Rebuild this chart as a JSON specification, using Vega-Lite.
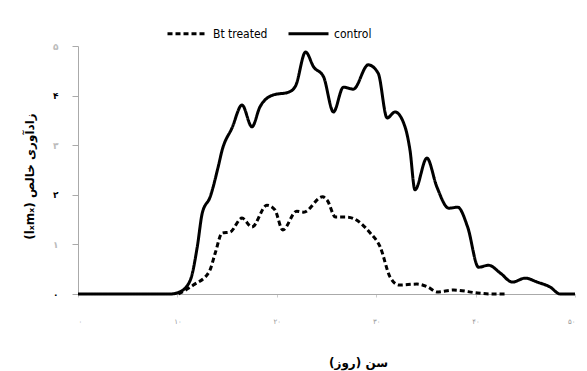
{
  "$schema": "https://vega.github.io/schema/vega-lite/v6.json",
  "width": 497,
  "height": 248,
  "autosize": {"type": "none"},
  "padding": {"left": 78, "top": 46, "right": 12, "bottom": 77},
  "background": "white",
  "config": {"view": {"stroke": null}, "font": "DejaVu Sans"},
  "data": {
    "values": [
      {"day": 0, "value": 0, "series": "control"},
      {"day": 9.3, "value": 0, "series": "control"},
      {"day": 10.3, "value": 0.05, "series": "control"},
      {"day": 11.3, "value": 0.28, "series": "control"},
      {"day": 12, "value": 0.95, "series": "control"},
      {"day": 12.5, "value": 1.63, "series": "control"},
      {"day": 13.3, "value": 1.96, "series": "control"},
      {"day": 14.1, "value": 2.56, "series": "control"},
      {"day": 14.5, "value": 2.9, "series": "control"},
      {"day": 15.5, "value": 3.35, "series": "control"},
      {"day": 16.5, "value": 3.81, "series": "control"},
      {"day": 17.5, "value": 3.37, "series": "control"},
      {"day": 18.3, "value": 3.77, "series": "control"},
      {"day": 19.6, "value": 4.01, "series": "control"},
      {"day": 21.2, "value": 4.07, "series": "control"},
      {"day": 21.9, "value": 4.2, "series": "control"},
      {"day": 22.9, "value": 4.88, "series": "control"},
      {"day": 23.7, "value": 4.58, "series": "control"},
      {"day": 24.7, "value": 4.38, "series": "control"},
      {"day": 25.7, "value": 3.67, "series": "control"},
      {"day": 26.7, "value": 4.17, "series": "control"},
      {"day": 27.7, "value": 4.13, "series": "control"},
      {"day": 29.2, "value": 4.62, "series": "control"},
      {"day": 30.2, "value": 4.45, "series": "control"},
      {"day": 31.1, "value": 3.55, "series": "control"},
      {"day": 31.9, "value": 3.67, "series": "control"},
      {"day": 32.9, "value": 3.37, "series": "control"},
      {"day": 33.4, "value": 2.9, "series": "control"},
      {"day": 33.9, "value": 2.1, "series": "control"},
      {"day": 35.1, "value": 2.74, "series": "control"},
      {"day": 36.1, "value": 2.16, "series": "control"},
      {"day": 37.3, "value": 1.73, "series": "control"},
      {"day": 38.2, "value": 1.75, "series": "control"},
      {"day": 39.2, "value": 1.35, "series": "control"},
      {"day": 40.3, "value": 0.54, "series": "control"},
      {"day": 41.3, "value": 0.58, "series": "control"},
      {"day": 42.5, "value": 0.42, "series": "control"},
      {"day": 43.7, "value": 0.24, "series": "control"},
      {"day": 45, "value": 0.32, "series": "control"},
      {"day": 46.2, "value": 0.24, "series": "control"},
      {"day": 47.5, "value": 0.14, "series": "control"},
      {"day": 48.5, "value": 0, "series": "control"},
      {"day": 50, "value": 0, "series": "control"},
      {"day": 10.1, "value": 0, "series": "Bt treated"},
      {"day": 11.6, "value": 0.18, "series": "Bt treated"},
      {"day": 13.2, "value": 0.45, "series": "Bt treated"},
      {"day": 13.8, "value": 0.82, "series": "Bt treated"},
      {"day": 14.5, "value": 1.23, "series": "Bt treated"},
      {"day": 15.3, "value": 1.25, "series": "Bt treated"},
      {"day": 16.5, "value": 1.53, "series": "Bt treated"},
      {"day": 17.5, "value": 1.35, "series": "Bt treated"},
      {"day": 19, "value": 1.79, "series": "Bt treated"},
      {"day": 19.8, "value": 1.7, "series": "Bt treated"},
      {"day": 20.6, "value": 1.29, "series": "Bt treated"},
      {"day": 22, "value": 1.67, "series": "Bt treated"},
      {"day": 22.7, "value": 1.65, "series": "Bt treated"},
      {"day": 24.6, "value": 1.96, "series": "Bt treated"},
      {"day": 25.1, "value": 1.88, "series": "Bt treated"},
      {"day": 25.9, "value": 1.55, "series": "Bt treated"},
      {"day": 27.1, "value": 1.55, "series": "Bt treated"},
      {"day": 29.4, "value": 1.23, "series": "Bt treated"},
      {"day": 30.4, "value": 0.95, "series": "Bt treated"},
      {"day": 31.4, "value": 0.34, "series": "Bt treated"},
      {"day": 32.3, "value": 0.18, "series": "Bt treated"},
      {"day": 34.1, "value": 0.2, "series": "Bt treated"},
      {"day": 35.2, "value": 0.14, "series": "Bt treated"},
      {"day": 36.1, "value": 0.04, "series": "Bt treated"},
      {"day": 37.8, "value": 0.08, "series": "Bt treated"},
      {"day": 40.2, "value": 0.02, "series": "Bt treated"},
      {"day": 41.5, "value": 0, "series": "Bt treated"},
      {"day": 43.2, "value": 0, "series": "Bt treated"}
    ]
  },
  "mark": {"type": "line", "interpolate": "monotone", "strokeWidth": 3, "color": "black"},
  "encoding": {
    "x": {
      "field": "day",
      "type": "quantitative",
      "scale": {"domain": [0, 50], "nice": false},
      "axis": {
        "values": [0, 10, 20, 30, 40, 50],
        "grid": false,
        "domainColor": "#aaaaaa",
        "tickColor": "#cccccc",
        "tickSize": 3,
        "labelExpr": "datum.value == 0 ? '۰' : ['', '۱', '۲', '۳', '۴', '۵'][datum.value / 10] + '۰'",
        "labelFontSize": 7,
        "labelColor": "#999999",
        "labelPadding": 20,
        "title": "‏سن (روز)‏",
        "titleFontSize": 12,
        "titleFontWeight": "bold",
        "titleColor": "black",
        "titleX": 280,
        "titleY": 68,
        "titleAnchor": null,
        "titleAlign": "center",
        "titleBaseline": "middle"
      }
    },
    "y": {
      "field": "value",
      "type": "quantitative",
      "scale": {"domain": [0, 5], "nice": false},
      "axis": {
        "values": [0, 1, 2, 3, 4, 5],
        "grid": false,
        "domainColor": "#aaaaaa",
        "tickColor": "#aaaaaa",
        "tickSize": 6,
        "labelExpr": "['۰', '۱', '۲', '۳', '۴', '۵'][datum.value]",
        "labelFontSize": 9,
        "labelFontWeight": "bold",
        "labelColor": {"condition": {"test": "datum.value == 2 || datum.value == 4 || datum.value == 0", "value": "black"}, "value": "#bbbbbb"},
        "labelPadding": 14,
        "title": "(lₓmₓ) زادآوری خالص",
        "titleFontSize": 12,
        "titleFontWeight": "bold",
        "titleColor": "black",
        "titleX": -49,
        "titleY": 130,
        "titleAngle": -90,
        "titleAlign": "center",
        "titleBaseline": "middle"
      }
    },
    "strokeDash": {
      "field": "series",
      "type": "nominal",
      "scale": {"domain": ["Bt treated", "control"], "range": [[5, 3], [1, 0]]},
      "legend": {
        "title": null,
        "orient": "none",
        "direction": "horizontal",
        "legendX": 88,
        "legendY": -34,
        "symbolType": "stroke",
        "symbolStrokeWidth": 3,
        "symbolStrokeColor": "black",
        "symbolSize": 1600,
        "labelFontSize": 12,
        "labelFont": "DejaVu Sans Condensed",
        "labelColor": "black",
        "columnPadding": 14,
        "labelOffset": 4
      }
    }
  }
}
